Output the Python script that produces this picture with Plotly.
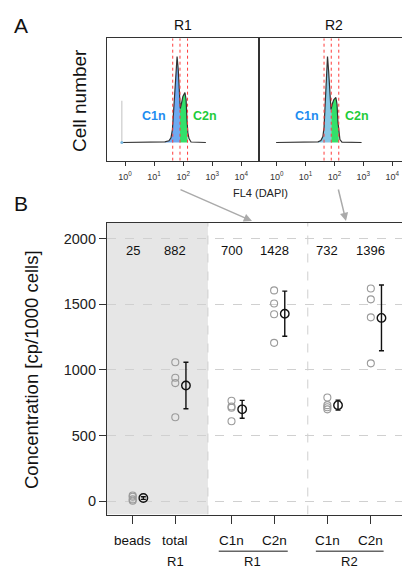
import numpy as np
import plotly.graph_objects as go

# ---------------- data ----------------
# Panel A: flow-cytometry histograms (x = log10 FL4 (DAPI), y = relative cell number)
r1_log_fl4 = [-0.11, 0.86, 1.37, 1.51, 1.58, 1.63, 1.68, 1.74, 1.79, 1.83, 1.87, 1.90, 1.94,
              1.99, 2.06, 2.10, 2.13, 2.16, 2.20, 2.27, 2.78]
r1_counts = [0, 0.2, 0.7, 1.7, 4.7, 13, 38, 68, 86, 73, 48, 34, 39, 46, 50, 43, 23, 10, 4, 0.5, 0]
r2_log_fl4 = [-0.02, 0.98, 1.43, 1.53, 1.60, 1.64, 1.68, 1.72, 1.76, 1.80, 1.84, 1.88, 1.93,
              1.98, 2.05, 2.09, 2.12, 2.16, 2.19, 2.26, 2.94]
r2_counts = [0, 0.2, 0.7, 2, 6, 15, 38, 65, 86, 71, 46, 33, 39, 43, 45, 38, 21, 9, 3, 0.4, 0]
gates_log = [1.64, 1.89, 2.15]
decade_ticks = [0, 1, 2, 3, 4]
decade_labels = ["10<sup>0</sup>", "10<sup>1</sup>", "10<sup>2</sup>", "10<sup>3</sup>", "10<sup>4</sup>"]

# Panel B: concentrations
categories = ["beads", "total", "C1n", "C2n", "C1n", "C2n"]
groups = ["R1", "R1", "R1", "R1", "R2", "R2"]
replicates = [
    [5, 15, 35, 45],
    [1058, 940, 900, 640],
    [765, 722, 712, 610],
    [1605, 1505, 1424, 1206],
    [790, 732, 716, 700],
    [1620, 1537, 1400, 1050],
]
means = [25, 882, 700, 1428, 732, 1396]
errors = [10, 177, 68, 172, 38, 250]
y_ticks = [0, 500, 1000, 1500, 2000]

# ---------------- layout helpers ----------------
W, H = 402, 569
FONT = "Liberation Sans, Arial, sans-serif"
def px(x):
    return x / W
def py(y):
    return 1 - y / H

cat_pos = [0, 1, 2.32, 3.32, 4.57, 5.59]
mean_shift = 0.25

fig = go.Figure()

# ----- Panel A histograms -----
def add_hist(xs, ys, xa, ya, blue):
    xs = np.array(xs); ys = np.array(ys)
    g0, g1, g2 = gates_log
    m = (xs >= 1.3) & (xs < g1)
    bx = np.concatenate([xs[m], [g1]])
    by = np.concatenate([ys[m], [np.interp(g1, xs, ys)]])
    fig.add_trace(go.Scatter(x=bx, y=by, mode="lines", line=dict(width=0),
                             fill="tozeroy", fillcolor=blue, xaxis=xa, yaxis=ya,
                             hoverinfo="skip", showlegend=False))
    m = (xs > g1) & (xs < g2)
    gx = np.concatenate([[g1], xs[m], [g2]])
    gy = np.concatenate([[np.interp(g1, xs, ys)], ys[m], [np.interp(g2, xs, ys)]])
    fig.add_trace(go.Scatter(x=gx, y=gy, mode="lines", line=dict(width=0),
                             fill="tozeroy", fillcolor="#33e06a", xaxis=xa, yaxis=ya,
                             hoverinfo="skip", showlegend=False))
    fig.add_trace(go.Scatter(x=xs, y=ys, mode="lines", line=dict(color="#333333", width=1.2),
                             xaxis=xa, yaxis=ya, hoverinfo="skip", showlegend=False))
    for g in gates_log:
        fig.add_trace(go.Scatter(x=[g, g], y=[-18.2, 104.2], mode="lines",
                                 line=dict(color="#ff3b3b", width=1, dash="dot"),
                                 xaxis=xa, yaxis=ya, hoverinfo="skip", showlegend=False))

add_hist(r1_log_fl4, r1_counts, "x", "y", "#6eaaf2")
add_hist(r2_log_fl4, r2_counts, "x2", "y2", "#86c8e6")
fig.add_trace(go.Scatter(x=[r1_log_fl4[0], r1_log_fl4[0]], y=[0, 41.7], mode="lines",
                         line=dict(color="#cccccc", width=1.2), xaxis="x", yaxis="y",
                         hoverinfo="skip", showlegend=False))
fig.add_trace(go.Scatter(x=[r1_log_fl4[0]], y=[0], mode="markers",
                         marker=dict(color="#7ab8e0", size=3), xaxis="x", yaxis="y",
                         hoverinfo="skip", showlegend=False))

# ----- Panel B -----
for i, vals in enumerate(replicates):
    fig.add_trace(go.Scatter(x=[cat_pos[i]] * len(vals), y=vals, mode="markers",
                             marker=dict(symbol="circle-open", size=7, color="#9a9a9a",
                                         line=dict(width=1.1)),
                             xaxis="x3", yaxis="y3", hoverinfo="skip", showlegend=False))
fig.add_trace(go.Scatter(x=[p + mean_shift for p in cat_pos], y=means, mode="markers",
                         marker=dict(symbol="circle-open", size=8.5, color="#111111",
                                     line=dict(width=1.4)),
                         error_y=dict(type="data", array=errors, color="#111111",
                                      thickness=1.4, width=2.5),
                         xaxis="x3", yaxis="y3", hoverinfo="skip", showlegend=False))

shapes = [
    dict(type="rect", xref="x3", yref="y3", x0=-0.603, x1=1.766, y0=-100, y1=2118,
         fillcolor="#e6e6e6", line=dict(width=0), layer="below"),
    dict(type="line", xref="x3", yref="y3", x0=1.766, x1=1.766, y0=-100, y1=2118,
         line=dict(color="#cfcfcf", width=1, dash="dash"), layer="below"),
    dict(type="line", xref="x3", yref="y3", x0=4.11, x1=4.11, y0=-100, y1=2118,
         line=dict(color="#cfcfcf", width=1, dash="dash"), layer="below"),
    dict(type="line", xref="x3", yref="paper", x0=2.02, x1=3.64, y0=py(551.2), y1=py(551.2),
         line=dict(color="#666666", width=1.5)),
    dict(type="line", xref="x3", yref="paper", x0=4.30, x1=5.89, y0=py(551.2), y1=py(551.2),
         line=dict(color="#666666", width=1.5)),
]

ann = []
def txt(x, y, s, size, xref="paper", yref="paper", color="#111111", angle=0, bold=False):
    if bold:
        s = "<b>" + s + "</b>"
    ann.append(dict(x=x, y=y, xref=xref, yref=yref, text=s, showarrow=False,
                    font=dict(family=FONT, size=size, color=color), textangle=angle,
                    xanchor="center", yanchor="middle"))

txt(px(21), py(25), "A", 21)
txt(px(21), py(203), "B", 21)
txt(px(183), py(25), "R1", 14)
txt(px(334), py(25), "R2", 14)
txt(px(80), py(101), "Cell number", 19, angle=-90)
txt(px(260), py(193), "FL4 (DAPI)", 11, color="#222222")
txt(px(154), py(116), "C1n", 12.5, color="#1e8cf0", bold=True)
txt(px(205), py(116), "C2n", 12.5, color="#1fcc3a", bold=True)
txt(px(306.5), py(116), "C1n", 12.5, color="#1e8cf0", bold=True)
txt(px(357), py(116), "C2n", 12.5, color="#1fcc3a", bold=True)
txt(px(31), py(370), "Concentration [cp/1000 cells]", 18.5, angle=-90)
for i, m in enumerate(means):
    txt(cat_pos[i], 1910, str(m), 13, xref="x3", yref="y3")
for i, c in enumerate(categories):
    txt(cat_pos[i], py(540.2), c, 13.5, xref="x3")
txt(cat_pos[1], py(561.5), groups[1], 13, xref="x3")
txt((cat_pos[2] + cat_pos[3]) / 2, py(561.5), groups[2], 13, xref="x3")
txt((cat_pos[4] + cat_pos[5]) / 2, py(561.5), groups[4], 13, xref="x3")

for (tx, ty, hx, hy) in [(179, 189, 252, 221), (338, 188, 346, 221)]:
    ann.append(dict(x=px(hx), y=py(hy), xref="paper", yref="paper", text="",
                    showarrow=True, axref="pixel", ayref="pixel",
                    ax=tx - hx, ay=ty - hy, arrowhead=2, arrowsize=1.1,
                    arrowwidth=1.5, arrowcolor="#aaaaaa"))

line_style = dict(showline=True, linecolor="#333333", linewidth=1.2, showgrid=False,
                  zeroline=False, fixedrange=True)
yA = [py(160.7), py(38.3)]
fig.update_layout(
    width=W, height=H, margin=dict(l=0, r=0, t=0, b=0),
    paper_bgcolor="white", plot_bgcolor="white",
    font=dict(family=FONT, color="#222222"),
    xaxis=dict(domain=[px(107), px(258.5)], range=[-0.62, 4.59], anchor="y", mirror=True,
               ticks="outside", ticklen=4, tickcolor="#333333", tickvals=decade_ticks,
               ticktext=decade_labels, ticklabelstandoff=3,
               tickfont=dict(size=9, color="#333333"), **line_style),
    yaxis=dict(domain=yA, range=[-18.2, 104.2], anchor="x", mirror=True,
               showticklabels=False, ticks="", **line_style),
    xaxis2=dict(domain=[px(258.5), 1], range=[-0.63, 4.34], anchor="y2", mirror=True,
                ticks="outside", ticklen=4, tickcolor="#333333", tickvals=decade_ticks,
                ticktext=decade_labels, ticklabelstandoff=3,
                tickfont=dict(size=9, color="#333333"), **line_style),
    yaxis2=dict(domain=yA, range=[-18.2, 104.2], anchor="x2",
                showticklabels=False, ticks="", **line_style),
    xaxis3=dict(domain=[px(107), 1], range=[-0.603, 6.322], anchor="y3", mirror=True,
                ticks="outside", ticklen=8, tickwidth=1.2, tickcolor="#333333",
                tickvals=cat_pos, showticklabels=False, **line_style),
    yaxis3=dict(domain=[py(514.5), py(223)], range=[-100, 2118], anchor="x3",
                ticks="outside", ticklen=7, tickwidth=1.2, tickcolor="#333333",
                tickvals=y_ticks, tickfont=dict(size=14.5, color="#222222"),
                showline=True, linecolor="#333333", linewidth=1.2, zeroline=False,
                fixedrange=True, showgrid=True, gridcolor="#d0d0d0", griddash="dash",
                gridwidth=1),
    shapes=shapes,
    annotations=ann,
)

fig.write_html("out.html", config={"displayModeBar": False},
               post_script="document.body.style.margin='0';document.body.style.overflow='hidden';")
